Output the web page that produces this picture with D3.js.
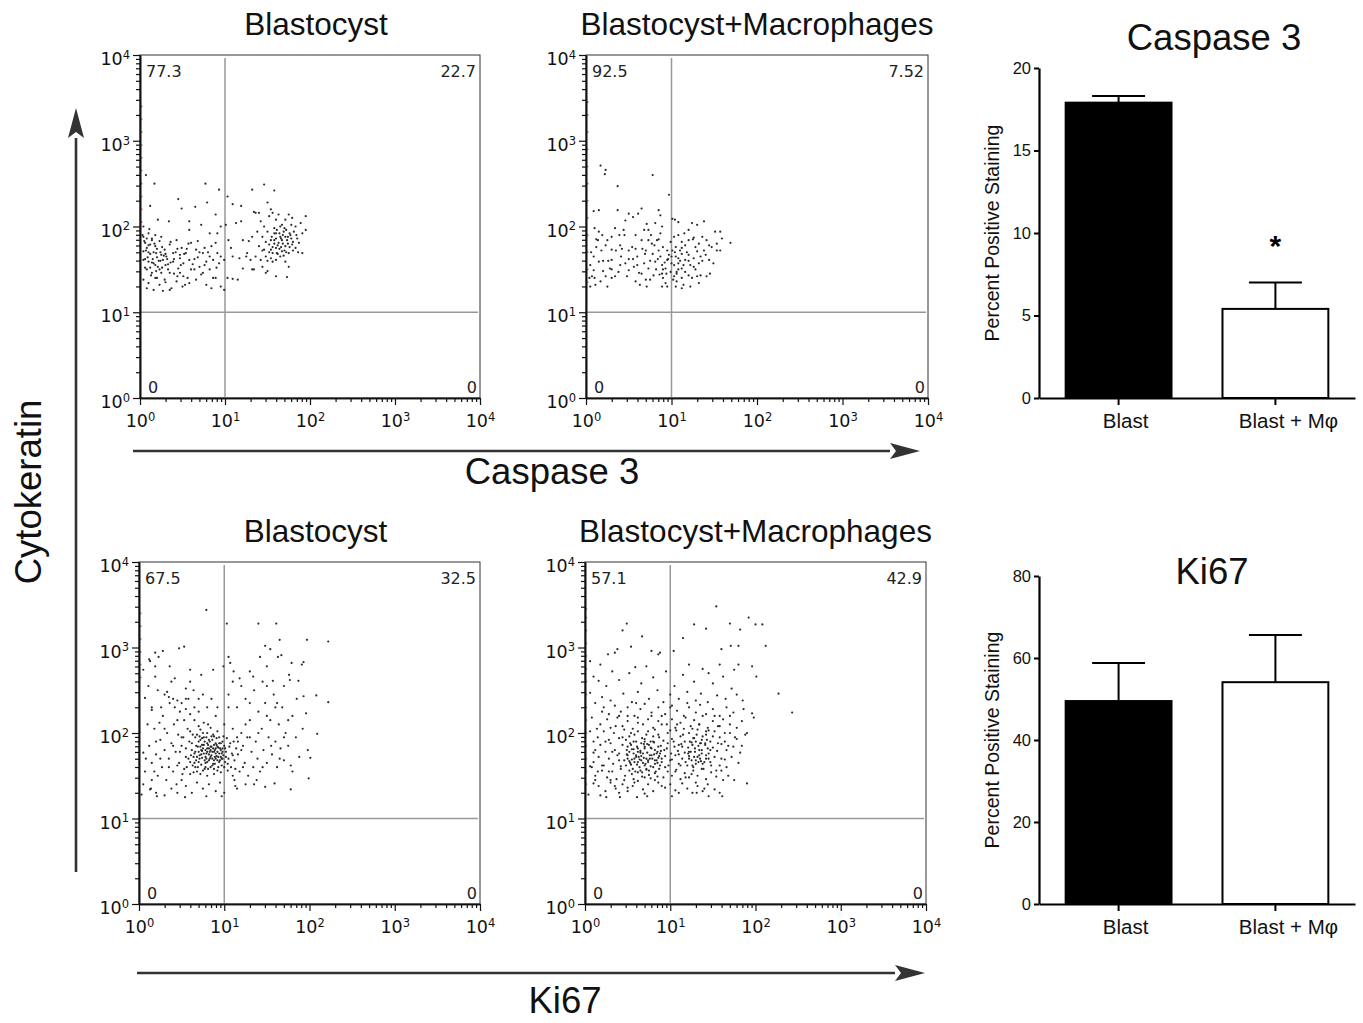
<!DOCTYPE html>
<html>
<head>
<meta charset="utf-8">
<script src="https://cdn.jsdelivr.net/npm/d3@7"></script>
<style>
  body { margin: 0; background: #fff; }
  text { font-family: "Liberation Sans", Arial, sans-serif; }
  .flow text { font-family: "DejaVu Sans", Verdana, sans-serif; }
</style>
</head>
<body>
<div id="chart"></div>
<script>
// ---- data (dot positions are log10 of the fluorescence values) ----
const flowTitles = ["Blastocyst", "Blastocyst+Macrophages", "Blastocyst", "Blastocyst+Macrophages"];
const quadTopLeft = ["77.3", "92.5", "67.5", "57.1"];
const quadTopRight = ["22.7", "7.52", "32.5", "42.9"];
const quadBottomLeft = ["0", "0", "0", "0"];
const quadBottomRight = ["0", "0", "0", "0"];
const decadeTicks = [1, 10, 100, 1000, 10000];
const gateValue = 10;

const casBlastPts = [
  [0.02,2.05],[0.02,2.2],[0.02,2.35],[0.02,2.5],[0.02,2.65],[0.02,2.8],[0.02,2.95],[0.02,3.1],[0.02,3.25],[0.02,3.4],
  [0.04,2.00],[0.11,1.97],[0.21,2.08],[0.34,2.06],[0.58,2.06],[0.18,1.90],[0.25,1.88],[0.04,1.88],[0.10,1.92],[0.14,1.84],
  [0.58,1.96],[0.72,2.02],[0.68,1.83],[0.82,1.92],[0.91,1.92],[0.95,2.00],[0.06,1.81],[0.12,1.79],[0.18,1.77],[0.23,1.83],
  [0.29,1.73],[0.35,1.79],[0.43,1.84],[0.49,1.75],[0.54,1.69],[0.60,1.81],[0.66,1.73],[0.76,1.75],[0.84,1.77],[0.89,1.81],
  [0.04,1.71],[0.08,1.75],[0.19,1.69],[0.25,1.67],[0.31,1.65],[0.39,1.69],[0.47,1.67],[0.74,1.69],[0.91,1.69],[0.95,1.65],
  [0.04,1.61],[0.10,1.59],[0.16,1.57],[0.21,1.53],[0.27,1.61],[0.33,1.50],[0.39,1.59],[0.45,1.51],[0.51,1.57],[0.58,1.61],
  [0.64,1.50],[0.70,1.53],[0.78,1.59],[0.86,1.61],[0.93,1.57],[0.99,1.61],[0.08,1.50],[0.14,1.46],[0.19,1.48],[0.25,1.46],
  [0.35,1.46],[0.47,1.46],[0.74,1.46],[0.82,1.50],[0.04,1.38],[0.10,1.34],[0.18,1.40],[0.23,1.32],[0.29,1.38],[0.37,1.28],
  [0.43,1.36],[0.51,1.42],[0.58,1.34],[0.66,1.38],[0.78,1.32],[0.84,1.28],[0.89,1.40],[0.95,1.30],[0.99,1.26],[0.16,1.26],
  [0.27,1.25],[0.35,1.26],[0.53,1.32],[0.08,1.28],
  [0.07,1.72],[0.12,1.68],[0.15,1.62],[0.20,1.74],[0.22,1.60],[0.28,1.66],[0.30,1.55],[0.10,1.78],[0.05,1.83],[0.14,1.86],
  [0.24,1.70],[0.32,1.62],[0.18,1.55],[0.26,1.52],[0.09,1.64],[0.36,1.58],[0.42,1.70],[0.47,1.63],[0.55,1.74],[0.62,1.56],
  [0.68,1.64],[0.72,1.44],[0.80,1.70],[0.86,1.40],[0.90,1.52],[0.56,1.40],[0.44,1.42],[0.13,1.43],[0.06,1.52],[0.03,1.90],
  [0.06,1.62],[0.10,1.70],[0.14,1.58],[0.17,1.80],[0.20,1.64],[0.23,1.50],[0.26,1.76],[0.30,1.68],[0.33,1.56],[0.36,1.82],
  [0.40,1.62],[0.44,1.74],[0.48,1.55],[0.52,1.68],[0.57,1.80],[0.60,1.50],[0.64,1.62],[0.70,1.70],[0.76,1.55],[0.82,1.65],
  [0.08,1.86],[0.16,1.70],[0.24,1.60],[0.12,1.52],[0.20,1.40],[0.30,1.35],[0.40,1.45],[0.50,1.30],
  [0.07,2.60],[0.17,2.50],[0.12,2.24],[0.45,2.32],[0.77,2.50],[0.79,2.28],[0.93,2.43],[0.49,2.21],[0.65,2.23],[1.03,2.35],
  [1.09,2.26],[1.32,2.43],[1.46,2.49],[1.58,2.42],[1.50,2.28],[1.19,2.24],[0.89,2.14],[1.34,2.17],[1.40,2.16],[1.54,2.20],
  [1.01,2.02],[1.04,1.84],[1.07,1.75],[1.13,2.04],[1.19,2.06],[1.09,1.65],[1.17,1.63],[1.25,1.65],[1.21,1.84],[1.28,1.83],
  [1.32,1.88],[1.03,1.40],[1.09,1.39],[1.15,1.38],[1.21,1.51],[1.26,1.69],[1.34,1.50],[1.30,1.61],
  [1.36,2.16],[1.42,2.06],[1.46,2.00],[1.52,2.12],[1.56,2.16],[1.60,2.08],[1.63,2.14],[1.67,2.02],[1.71,2.08],[1.75,2.14],
  [1.79,2.10],[1.83,2.00],[1.89,2.04],[1.95,2.12],[1.38,1.94],[1.44,1.88],[1.50,1.94],[1.54,1.84],[1.58,1.92],[1.61,1.96],
  [1.65,1.88],[1.69,1.94],[1.73,1.84],[1.77,1.90],[1.81,1.94],[1.85,1.86],[1.91,1.92],[1.95,1.96],[1.40,1.77],[1.46,1.73],
  [1.52,1.79],[1.56,1.69],[1.60,1.75],[1.63,1.81],[1.67,1.71],[1.71,1.77],[1.75,1.69],[1.79,1.79],[1.83,1.75],[1.87,1.81],
  [1.91,1.69],[1.36,1.65],[1.42,1.61],[1.48,1.65],[1.54,1.63],[1.60,1.61],[1.65,1.65],[1.71,1.59],[1.44,1.53],[1.50,1.48],
  [1.56,1.59],[1.61,1.69],[1.67,1.84],[1.75,1.53],[1.32,1.50],[1.48,1.46],[1.60,1.42],[1.73,1.41],[1.54,1.73],[1.58,1.84],
  [1.65,2.00],[1.71,1.88],[1.62,1.78],[1.66,1.86],[1.70,1.72],[1.74,1.80],[1.68,1.90],[1.58,1.80],[1.55,1.88],[1.64,1.74],
  [1.72,1.96],[1.78,1.86],[1.80,1.72],[1.60,1.92],[1.52,1.70],[1.48,1.82],[1.76,1.76],[1.69,1.66],
  [1.60,1.86],[1.64,1.92],[1.68,1.80],[1.72,1.70],[1.76,1.92],[1.80,1.82],[1.84,1.90],[1.56,1.76],[1.62,1.68],[1.70,1.98],
  [1.78,2.02],[1.66,1.76],[1.74,1.88],[1.58,1.98],[1.86,1.70],[1.50,1.60],[1.44,1.72]
];

const casMacPts = [
  [0.02,1.35],[0.02,1.5],[0.02,1.7],[0.02,1.9],[0.02,2.1],[0.02,2.3],[0.02,2.5],[0.02,2.7],[0.02,2.9],[0.02,3.1],[0.02,3.3],[0.02,3.45],
  [0.17,2.71],[0.23,2.66],[0.22,2.61],[0.37,2.47],[0.78,2.60],[0.97,2.37],[0.09,2.18],[0.15,2.19],[0.37,2.19],[0.50,2.15],
  [0.55,2.11],[0.61,2.15],[0.65,2.21],[0.85,2.19],[0.87,2.13],[1.01,2.09],[1.04,2.08],[1.08,2.05],[0.81,2.04],[0.71,2.03],
  [0.46,2.07],[0.10,1.98],[0.15,1.94],[0.14,1.84],[0.12,1.76],[0.19,1.90],[0.25,1.84],[0.30,1.88],[0.34,1.98],[0.39,1.90],
  [0.44,1.96],[0.45,1.90],[0.35,1.72],[0.30,1.73],[0.42,1.74],[0.23,1.78],[0.18,1.72],[0.09,1.65],[0.15,1.59],[0.09,1.49],
  [0.07,1.42],[0.05,1.30],[0.11,1.32],[0.17,1.36],[0.23,1.42],[0.30,1.40],[0.34,1.42],[0.38,1.47],[0.28,1.51],[0.30,1.61],
  [0.41,1.65],[0.50,1.72],[0.54,1.76],[0.58,1.74],[0.60,1.65],[0.56,1.53],[0.46,1.57],[0.50,1.49],[0.58,1.36],[0.63,1.32],
  [0.71,1.30],[0.75,1.38],[0.79,1.43],[0.73,1.51],[0.68,1.57],[0.69,1.68],[0.65,1.84],[0.73,1.84],[0.77,1.80],[0.83,1.84],
  [0.68,1.96],[0.73,1.96],[0.89,2.00],[0.87,1.92],[0.90,1.76],[0.85,1.72],[0.87,1.65],[0.81,1.59],[0.89,1.55],[0.93,1.51],
  [0.89,1.45],[0.90,1.40],[0.95,1.61],[0.95,1.72],[0.97,1.67],[0.89,1.30],[0.95,1.30],
  [1.03,1.88],[1.08,1.90],[1.12,1.82],[1.05,1.76],[1.10,1.72],[1.16,1.78],[1.20,1.84],[1.26,1.87],[1.32,1.80],[1.36,1.88],
  [1.41,1.84],[1.47,1.76],[1.53,1.80],[1.59,1.86],[1.57,1.94],[1.51,1.94],[1.69,1.81],[1.24,2.04],[1.30,2.02],[1.38,2.06],
  [1.20,1.96],[1.05,1.65],[1.08,1.57],[1.03,1.55],[1.06,1.47],[1.12,1.51],[1.16,1.61],[1.20,1.67],[1.26,1.63],[1.30,1.71],
  [1.34,1.65],[1.40,1.67],[1.44,1.61],[1.49,1.57],[1.53,1.72],[1.57,1.72],[1.26,1.53],[1.32,1.57],[1.20,1.43],[1.24,1.40],
  [1.30,1.42],[1.34,1.43],[1.41,1.42],[1.45,1.45],[1.12,1.40],[1.06,1.36],[1.14,1.32],[1.12,1.28],[1.05,1.30],[1.03,1.42],
  [1.22,1.30],[1.32,1.34],[0.99,1.47],[1.00,1.57],[1.01,1.72],[0.99,1.82],[1.16,1.47],[1.22,1.55],[1.28,1.76],[1.38,1.72],
  [1.12,1.68],[1.08,1.63],
  [0.55,1.62],[0.62,1.46],[0.48,1.42],[0.66,1.74],[0.78,1.68],[0.82,1.50],[0.70,1.38],[0.40,1.55],[0.26,1.60],[0.20,1.48],
  [0.12,1.85],[0.05,1.55],[0.06,1.70],[0.04,1.40],[0.84,1.62],[0.92,1.58],[0.86,1.44],[0.93,1.34],[0.76,1.90],[0.58,1.90],
  [1.00,1.65],[1.04,1.70],[1.08,1.50],[1.10,1.60],[1.14,1.55],[1.18,1.70],[1.02,1.38],[1.06,1.45],[0.90,1.50],[0.94,1.45],
  [0.96,1.62],[1.12,1.75],[1.20,1.60],[1.28,1.50],[1.36,1.60],[1.44,1.78],[0.60,1.55],[0.50,1.62],[0.70,1.72],[0.80,1.78],
  [0.40,1.78],[0.30,1.50],[0.20,1.60],[0.10,1.40],[0.25,1.30],[0.65,1.45],[0.75,1.60],[0.85,1.85],[1.25,1.85],[1.15,1.92]
];

const kiBlastPts = [
  [0.02,2.8],[0.02,2.95],[0.02,3.1],[0.02,3.25],[0.02,3.4],[0.02,2.65],
  [0.79,3.44],[1.03,3.28],[1.40,3.28],[1.61,3.28],[1.65,3.09],[1.97,3.09],[2.22,3.07],[0.47,2.99],[0.53,3.01],[1.48,3.02],
  [1.54,2.98],[1.05,2.89],[1.42,2.89],[1.63,2.89],[1.67,2.91],[1.79,2.82],[1.91,2.80],[1.93,2.83],[0.19,2.94],[0.23,2.89],
  [0.28,2.96],[0.12,2.86],[0.19,2.78],[0.36,2.78],[0.42,2.64],[0.19,2.66],[0.05,2.74],[0.13,2.84],[0.60,2.74],[0.73,2.68],
  [0.87,2.74],[0.99,2.78],[1.07,2.82],[1.11,2.72],[1.18,2.64],[1.30,2.72],[1.34,2.66],[1.50,2.78],[1.57,2.61],[1.76,2.68],
  [1.77,2.62],[1.87,2.61],[1.93,2.43],[2.08,2.44],[2.22,2.36],[1.96,2.23],[2.09,1.99],[1.98,1.80],[2.01,1.71],[1.99,1.47],
  [1.78,1.34],[1.59,1.41],[1.48,1.37],[1.13,1.38],[0.97,1.26],[0.79,1.26],[0.54,1.25],[0.30,1.27],[0.21,1.26],[0.13,1.34],
  [0.03,1.28],[0.15,1.45],[0.07,1.55],[0.05,1.77],[0.01,2.01],[0.15,2.27],[0.07,2.41],[0.11,2.55],
  [0.52,1.95],[0.55,1.82],[0.58,1.70],[0.60,2.02],[0.62,1.88],[0.63,1.62],[0.65,1.76],[0.66,1.95],[0.68,1.55],[0.69,1.84],
  [0.70,2.08],[0.71,1.70],[0.72,1.92],[0.73,1.63],[0.74,1.79],[0.75,2.00],[0.76,1.86],[0.77,1.58],[0.78,1.72],[0.79,1.95],
  [0.80,1.66],[0.80,1.82],[0.81,2.10],[0.82,1.75],[0.83,1.90],[0.84,1.60],[0.85,1.84],[0.86,1.70],[0.87,1.98],[0.88,1.78],
  [0.89,1.64],[0.90,1.88],[0.91,1.73],[0.92,1.56],[0.93,1.83],[0.94,1.95],[0.95,1.68],[0.96,1.80],[0.97,1.62],[0.98,1.90],
  [0.99,1.74],[1.00,1.85],[1.01,1.66],[1.02,1.78],[1.03,1.94],[1.05,1.70],[1.06,1.84],[1.08,1.60],[1.09,1.76],[1.11,1.90],
  [1.12,1.68],[1.14,1.82],[0.56,1.60],[0.59,1.90],[0.64,1.72],[0.67,1.68],[0.70,1.78],[0.74,1.71],[0.76,1.95],[0.78,1.65],
  [0.82,1.68],[0.84,1.80],[0.86,1.92],[0.88,1.58],[0.90,1.82],[0.92,1.68],[0.94,1.76],[0.96,1.88],[0.98,1.70],[1.00,1.60],
  [0.72,1.84],[0.76,1.76],[0.80,1.88],[0.84,1.72],[0.88,1.86],[0.92,1.78],[0.96,1.72],[0.62,1.80],[0.66,1.60],[0.70,1.90],
  [0.74,1.86],[0.78,1.80],[0.82,1.82],[0.86,1.78],[0.90,1.70],[0.94,1.88],[0.98,1.82],[1.02,1.72],[0.68,1.98],[0.72,2.04],
  [0.76,2.12],[0.80,2.00],[0.84,2.06],[0.88,1.96],[0.92,2.02],[0.60,1.66],[0.64,1.54],[0.72,1.52],[0.80,1.50],[0.88,1.52],
  [0.96,1.54],[1.04,1.56],
  [0.45,1.62],[0.48,1.78],[0.50,1.95],[0.53,1.58],[0.55,1.72],[0.57,2.05],[0.60,1.52],[0.61,1.74],[0.63,1.98],[0.65,1.65],
  [0.67,1.85],[0.69,1.60],[0.71,1.96],[0.73,1.75],[0.75,1.56],[0.77,1.90],[0.79,1.70],[0.81,1.58],[0.83,1.78],[0.85,1.96],
  [0.87,1.64],[0.89,1.80],[0.91,1.94],[0.93,1.60],[0.95,1.82],[0.97,1.70],[0.99,1.96],[1.01,1.82],[1.04,1.64],[1.07,1.88],
  [1.10,1.74],[1.13,1.58],[1.16,1.90],[0.66,1.78],[0.70,1.66],[0.74,1.94],[0.78,1.60],[0.82,1.92],[0.86,1.62],[0.90,1.76],
  [0.94,1.66],[0.98,1.78],[0.75,1.82],[0.79,1.76],[0.83,1.70],[0.87,1.82],[0.91,1.86],[0.71,1.74],[0.77,1.68],[0.81,1.86],
  [0.85,1.74],[0.89,1.72],[0.93,1.72],[0.97,1.76],[0.68,1.72],[0.73,1.80],[0.80,1.78],[0.84,1.84],[0.88,1.68],[0.92,1.84],
  [0.12,1.85],[0.15,1.65],[0.18,2.05],[0.20,1.75],[0.22,1.50],[0.25,1.92],[0.27,1.60],[0.28,2.20],[0.30,1.80],[0.32,1.45],
  [0.33,2.00],[0.35,1.70],[0.36,2.35],[0.38,1.88],[0.40,1.55],[0.41,2.10],[0.43,1.78],[0.44,1.40],[0.46,1.98],[0.47,1.65],
  [0.48,2.25],[0.50,1.85],[0.51,1.52],[0.53,2.15],[0.30,2.45],[0.35,2.42],[0.40,2.40],[0.45,2.38],[0.33,2.48],[0.26,2.30],
  [0.42,2.30],[0.50,2.35],[0.55,2.28],[0.60,2.22],[0.65,2.30],[0.70,2.25],[0.08,1.70],[0.10,2.10],[0.05,1.40],[0.14,1.35],
  [0.20,1.30],[0.38,1.35],[0.45,1.30],[0.55,1.38],[0.62,1.30],[0.68,1.42],[0.75,1.35],[0.82,1.40],[0.90,1.32],[0.95,1.42],
  [1.00,1.30],[0.24,2.12],[0.18,1.55],[0.58,2.40],[0.64,2.50],[0.75,2.45],[0.85,2.40],[0.92,2.30],[0.55,2.52],
  [0.20,1.90],[0.25,1.70],[0.30,2.05],[0.35,1.60],[0.40,1.85],[0.45,2.15],[0.50,1.45],[0.55,2.40],[0.65,2.15],[0.70,2.40],
  [0.80,2.30],[0.90,2.20],[1.00,2.10],[1.05,2.30],[1.10,1.50],[1.20,1.80],[1.25,2.10],[1.30,1.95],[1.35,1.40],[1.40,2.00],
  [1.45,1.60],[1.50,2.20],[1.55,1.85],[1.60,2.30],[1.65,1.70],[1.70,1.95],[1.75,2.15],[1.80,1.55],[1.85,2.40],[1.30,2.35],
  [1.15,1.95],[1.22,1.60],[0.15,2.30],[0.22,2.50],[0.38,2.60],[0.60,2.60],
  [1.10,2.05],[1.12,1.45],[1.15,2.30],[1.16,1.75],[1.18,1.55],[1.20,2.00],[1.22,1.85],[1.24,1.65],[1.25,2.40],[1.27,1.95],
  [1.28,1.50],[1.30,2.15],[1.32,1.78],[1.34,1.60],[1.35,2.50],[1.37,1.90],[1.39,1.70],[1.40,2.25],[1.42,1.55],[1.44,2.05],
  [1.46,1.80],[1.48,2.35],[1.50,1.65],[1.52,1.95],[1.54,2.15],[1.56,1.75],[1.58,2.45],[1.60,1.90],[1.62,1.60],[1.64,2.10],
  [1.66,1.82],[1.68,2.30],[1.70,1.68],[1.72,2.00],[1.75,1.85],[1.78,1.62],[1.80,2.20],[1.84,1.95],[1.88,1.72],[1.92,2.05],
  [1.20,2.55],[1.45,2.60],[1.70,2.55],[1.05,2.45],[1.10,2.60],[1.25,1.40],[1.38,1.45],[1.15,1.35],[1.50,2.55],[1.62,2.35]
];

const kiMacPts = [
  [0.015,1.4],[0.015,1.55],[0.015,1.7],[0.015,1.85],[0.015,2.0],[0.015,2.15],[0.015,2.3],[0.015,2.45],[0.015,2.6],
  [0.015,2.75],[0.015,2.9],[0.015,3.05],[0.015,3.2],[0.015,3.35],[0.015,3.45],
  [2.27,2.46],[2.43,2.24],[1.96,2.23],[1.98,2.18],[2.12,3.02],[1.92,3.35],[2.00,3.27],[2.08,3.27],[1.54,3.48],[1.82,3.21],
  [1.70,3.28],[1.42,3.22],[1.28,3.27],[1.15,3.11],[1.04,2.96],[0.67,3.13],[0.49,3.28],[0.44,3.20],[0.54,3.01],[0.86,2.92],
  [0.88,2.94],[0.78,2.96],[0.59,2.77],[0.38,2.98],[0.35,2.94],[0.27,2.92],[0.18,2.80],[0.06,2.84],[0.10,2.66],[1.71,3.02],
  [1.80,3.02],[1.60,2.98],[1.75,2.74],[1.80,2.80],[1.96,2.78],[2.01,2.66],[1.90,2.00],[1.82,1.77],[1.90,1.41],[1.75,1.45],
  [1.61,1.26],[1.45,1.26],[1.31,1.30],[1.02,1.26],[0.73,1.26],[0.61,1.25],[0.41,1.25],[0.25,1.25],[0.18,1.27],[0.04,1.28],
  [0.10,1.41],[0.06,1.61],[0.10,1.77],[0.06,2.02],[0.08,2.18],[0.06,2.47],[0.12,2.35],[0.16,2.61],
  [0.25,2.55],[0.40,2.62],[0.52,2.70],[0.66,2.58],[0.80,2.65],[0.95,2.72],[1.05,2.55],[1.15,2.68],[1.28,2.60],[1.38,2.75],
  [1.50,2.58],[1.62,2.66],[1.72,2.52],[0.32,2.72],[0.72,2.78],[1.22,2.80],[1.45,2.70],[1.58,2.80],
  [0.20,2.42],[0.30,2.38],[0.45,2.46],[0.55,2.36],[0.62,2.48],[0.75,2.40],[0.85,2.50],[0.92,2.36],[1.00,2.45],[1.10,2.40],
  [1.20,2.48],[1.30,2.38],[1.36,2.46],[1.44,2.36],[1.55,2.44],[1.65,2.40],[1.78,2.45],[1.85,2.38],
  [0.22,2.30],[0.28,2.22],[0.35,2.32],[0.42,2.25],[0.50,2.30],[0.58,2.20],[0.65,2.28],[0.70,2.34],[0.78,2.24],[0.86,2.30],
  [0.94,2.22],[1.02,2.32],[1.08,2.26],[1.16,2.20],[1.22,2.30],[1.30,2.24],[1.35,2.33],[1.42,2.22],[1.50,2.28],[1.58,2.20],
  [1.66,2.30],[1.74,2.24],[1.86,2.28],
  [0.18,2.10],[0.26,2.16],[0.30,2.06],[0.38,2.18],[0.44,2.08],[0.50,2.14],[0.56,2.05],[0.62,2.18],[0.68,2.10],[0.74,2.16],
  [0.80,2.06],[0.86,2.14],[0.90,2.20],[0.96,2.10],[1.02,2.16],[1.06,2.06],[1.12,2.12],[1.18,2.18],[1.24,2.08],[1.28,2.15],
  [1.34,2.10],[1.38,2.20],[1.44,2.06],[1.50,2.14],[1.56,2.08],[1.62,2.16],[1.70,2.10],[1.78,2.06],[1.84,2.14],
  [0.15,1.95],[0.22,2.02],[0.28,1.92],[0.34,2.00],[0.40,1.94],[0.46,2.04],[0.52,1.96],[0.57,1.90],[0.62,2.02],[0.67,1.94],
  [0.72,1.98],[0.77,1.90],[0.82,2.04],[0.87,1.95],[0.92,1.91],[0.97,2.00],[1.02,1.93],[1.07,2.03],[1.12,1.96],[1.17,1.90],
  [1.22,2.00],[1.27,1.94],[1.32,2.04],[1.37,1.92],[1.42,1.98],[1.47,1.90],[1.52,2.02],[1.58,1.95],[1.64,1.90],[1.70,2.00],
  [1.78,1.93],[1.88,1.98],[0.48,1.92],[0.58,1.98],[0.70,1.90],[0.80,1.96],[1.00,2.03],[1.15,1.98],[1.30,1.90],[1.45,2.03],
  [0.12,1.80],[0.18,1.86],[0.24,1.78],[0.30,1.88],[0.35,1.80],[0.40,1.76],[0.44,1.86],[0.49,1.80],[0.53,1.88],[0.57,1.76],
  [0.61,1.84],[0.65,1.79],[0.69,1.87],[0.73,1.77],[0.77,1.83],[0.81,1.89],[0.85,1.78],[0.89,1.85],[0.93,1.80],[0.97,1.88],
  [1.01,1.76],[1.05,1.84],[1.09,1.79],[1.13,1.87],[1.17,1.77],[1.21,1.83],[1.25,1.89],[1.29,1.78],[1.33,1.85],[1.37,1.80],
  [1.41,1.88],[1.45,1.76],[1.50,1.83],[1.55,1.79],[1.60,1.87],[1.66,1.80],[1.74,1.84],[0.50,1.84],[0.62,1.78],[0.75,1.86],
  [0.88,1.76],[1.10,1.86],[1.22,1.78],[1.35,1.88],[0.55,1.81],[0.70,1.82],[0.82,1.80],
  [0.10,1.66],[0.16,1.72],[0.22,1.62],[0.28,1.70],[0.33,1.64],[0.38,1.74],[0.42,1.61],[0.46,1.68],[0.50,1.74],[0.54,1.63],
  [0.58,1.70],[0.62,1.66],[0.66,1.73],[0.70,1.62],[0.74,1.68],[0.78,1.74],[0.82,1.64],[0.86,1.71],[0.90,1.66],[0.94,1.73],
  [0.98,1.62],[1.02,1.69],[1.06,1.74],[1.10,1.64],[1.14,1.70],[1.18,1.66],[1.22,1.73],[1.26,1.62],[1.30,1.68],[1.34,1.74],
  [1.38,1.64],[1.42,1.70],[1.47,1.66],[1.52,1.72],[1.58,1.62],[1.64,1.69],[0.52,1.67],[0.60,1.72],[0.68,1.65],[0.76,1.70],
  [0.84,1.68],[1.28,1.72],[1.36,1.67],[0.64,1.69],[0.72,1.70],
  [0.12,1.50],[0.20,1.56],[0.26,1.48],[0.32,1.55],[0.37,1.46],[0.42,1.58],[0.47,1.50],[0.52,1.56],[0.57,1.46],[0.62,1.54],
  [0.67,1.49],[0.72,1.57],[0.77,1.47],[0.82,1.53],[0.87,1.58],[0.92,1.48],[0.97,1.55],[1.02,1.50],[1.07,1.57],[1.12,1.46],
  [1.17,1.53],[1.22,1.48],[1.27,1.56],[1.32,1.50],[1.37,1.58],[1.42,1.46],[1.48,1.54],[1.54,1.49],[1.60,1.56],[1.68,1.50],
  [0.55,1.52],[0.65,1.56],[0.75,1.51],[0.85,1.49],[1.25,1.52],
  [0.16,1.38],[0.24,1.32],[0.30,1.42],[0.36,1.35],[0.44,1.40],[0.50,1.32],[0.56,1.38],[0.62,1.44],[0.68,1.34],[0.74,1.40],
  [0.80,1.32],[0.86,1.42],[0.94,1.36],[1.00,1.40],[1.06,1.33],[1.14,1.41],[1.20,1.35],[1.26,1.30],[1.32,1.38],[1.38,1.32],
  [1.44,1.40],[1.52,1.34],[1.58,1.30],[0.40,1.30],[0.70,1.29],[1.10,1.30],
  [0.48,1.62],[0.50,1.70],[0.52,1.78],[0.54,1.86],[0.56,1.58],[0.58,1.66],[0.60,1.74],[0.62,1.82],[0.64,1.60],[0.66,1.68],
  [0.68,1.76],[0.70,1.84],[0.72,1.58],[0.74,1.66],[0.76,1.74],[0.78,1.82],[0.80,1.60],[0.82,1.68],[0.84,1.76],[0.86,1.84],
  [0.88,1.62],[0.90,1.70],[0.49,1.75],[0.53,1.65],[0.57,1.81],[0.61,1.63],[0.65,1.77],[0.69,1.71],[0.73,1.87],[0.77,1.61],
  [0.81,1.75],[0.85,1.65],[0.89,1.79],[0.55,1.69],[0.63,1.72],[0.71,1.64],[0.79,1.70],[0.87,1.73],[0.59,1.55],[0.67,1.54],
  [0.75,1.56],[0.83,1.55],[0.60,1.90],[0.70,1.93],[0.80,1.90],
  [1.20,1.62],[1.22,1.70],[1.24,1.78],[1.26,1.86],[1.28,1.94],[1.30,1.64],[1.32,1.72],[1.34,1.80],[1.36,1.88],[1.38,1.96],
  [1.40,1.66],[1.42,1.74],[1.44,1.82],[1.21,1.76],[1.25,1.68],[1.29,1.82],[1.33,1.66],[1.37,1.76],[1.41,1.86],[1.45,1.70],
  [1.23,1.90],[1.27,1.60],[1.31,1.98],[1.35,1.70],[1.39,1.58],[1.43,1.92],[1.47,1.80],[1.26,2.05],[1.34,2.10],[1.42,2.02],
  [0.20,1.62],[0.24,1.90],[0.28,1.55],[0.32,1.78],[0.36,2.08],[0.40,1.68],[0.44,1.95],[0.46,1.45],[0.50,2.20],[0.54,2.00],
  [0.58,1.42],[0.62,2.12],[0.66,1.88],[0.70,1.48],[0.74,2.02],[0.78,2.20],[0.82,1.45],[0.86,1.98],[0.90,2.10],[0.94,1.60],
  [0.96,1.82],[1.00,1.68],[1.04,1.90],[1.06,1.55],[1.08,2.10],[1.10,1.75],[1.12,1.62],[1.14,1.84],[1.16,2.05],[1.18,1.48],
  [1.48,1.62],[1.50,1.96],[1.52,2.20],[1.54,1.56],[1.56,1.88],[1.58,2.08],[1.60,1.70],[1.62,1.45],[1.64,2.00],[1.66,1.60],
  [1.68,1.85],[1.70,2.20],[1.72,1.72],[1.76,1.95],[1.80,1.65],[1.84,1.85],[1.00,2.30],[1.20,2.35],[0.60,2.35],[0.40,2.20],
  [0.30,1.45],[0.35,1.38],[0.50,1.36],[0.90,1.38],[1.30,1.42],[1.40,1.35],[0.15,1.55],[0.14,2.05],[0.20,2.25],[0.10,1.90],
  [0.08,1.60],[0.12,1.45]
];

// bar charts
const barGroups = ["Blast", "Blast + Mφ"];
const barFills = ["#000", "#fff"];
const caspaseMeans = [17.9, 5.4];
const caspaseSem = [0.4, 1.6];
const caspaseTicks = [0, 5, 10, 15, 20];
const ki67Means = [49.5, 54.1];
const ki67Sem = [9.3, 11.5];
const ki67Ticks = [0, 20, 40, 60, 80];

// ---- drawing ----
const svg = d3.select("#chart").append("svg")
  .attr("width", 1363).attr("height", 1023);

const flowPanels = [
  { left: 140, right: 480, top: 55, bottom: 398, points: casBlastPts, title: 35 },
  { left: 586, right: 928, top: 55, bottom: 398, points: casMacPts, title: 35 },
  { left: 139, right: 480, top: 562, bottom: 904, points: kiBlastPts, title: 542 },
  { left: 585, right: 926, top: 562, bottom: 904, points: kiMacPts, title: 542 }
];

const minorTicks = [];
decadeTicks.slice(0, -1).forEach(d => {
  for (let m = 2; m <= 9; m++) minorTicks.push(m * d);
});

function superLabels(sel) {
  sel.selectAll(".tick text").each(function (d) {
    const t = d3.select(this).text(null);
    t.append("tspan").text("10");
    t.append("tspan").attr("font-size", 11.5).attr("dy", "-0.55em").text(Math.round(Math.log10(d)));
  });
}

function drawFlow(p, i) {
  const x = d3.scaleLog().domain([1, 1e4]).range([p.left, p.right]);
  const y = d3.scaleLog().domain([1, 1e4]).range([p.bottom, p.top]);
  const g = svg.append("g").attr("class", "flow");

  g.append("rect")
    .attr("x", p.left).attr("y", p.top)
    .attr("width", p.right - p.left).attr("height", p.bottom - p.top)
    .attr("fill", "none").attr("stroke", "#333").attr("stroke-width", 1);

  // quadrant gates
  g.append("line")
    .attr("x1", x(gateValue)).attr("x2", x(gateValue))
    .attr("y1", p.top + 3).attr("y2", p.bottom)
    .attr("stroke", "#999").attr("stroke-width", 1.5);
  g.append("line")
    .attr("x1", p.left).attr("x2", p.right - 2)
    .attr("y1", y(gateValue)).attr("y2", y(gateValue))
    .attr("stroke", "#999").attr("stroke-width", 1.5);

  g.append("g").selectAll("circle")
    .data(p.points)
    .join("circle")
    .attr("cx", d => x(Math.pow(10, d[0])))
    .attr("cy", d => y(Math.pow(10, d[1])))
    .attr("r", 1.1)
    .attr("fill", d => d[0] < 0.03 ? "#aaa" : "#2a2a2a");

  // axes: minor then major ticks
  const xMinor = g.append("g").attr("transform", `translate(0,${p.bottom})`)
    .call(d3.axisBottom(x).tickValues(minorTicks).tickSize(4).tickSizeOuter(0).tickFormat(""));
  const xMajor = g.append("g").attr("transform", `translate(0,${p.bottom})`)
    .call(d3.axisBottom(x).tickValues(decadeTicks).tickSize(7).tickSizeOuter(0).tickPadding(10));
  const yMinor = g.append("g").attr("transform", `translate(${p.left},0)`)
    .call(d3.axisLeft(y).tickValues(minorTicks).tickSize(4).tickSizeOuter(0).tickFormat(""));
  const yMajor = g.append("g").attr("transform", `translate(${p.left},0)`)
    .call(d3.axisLeft(y).tickValues(decadeTicks).tickSize(7).tickSizeOuter(0).tickPadding(3));

  [xMinor, xMajor, yMinor, yMajor].forEach(a => {
    a.select(".domain").attr("stroke", "#111").attr("stroke-width", 1.6);
    a.selectAll(".tick line").attr("stroke", "#111").attr("stroke-width", 1.2);
    a.selectAll("text").attr("font-family", null).attr("font-size", 17.5).attr("fill", "#111");
  });
  superLabels(xMajor);
  superLabels(yMajor);
  yMajor.selectAll(".tick text").attr("dy", "0.55em");

  // quadrant percentages
  const q = [
    [p.left + 6, p.top + 22, "start", quadTopLeft[i]],
    [p.right - 4, p.top + 22, "end", quadTopRight[i]],
    [p.left + 8, p.bottom - 5, "start", quadBottomLeft[i]],
    [p.right - 3, p.bottom - 5, "end", quadBottomRight[i]]
  ];
  g.selectAll("text.quad").data(q).join("text")
    .attr("class", "quad")
    .attr("x", d => d[0]).attr("y", d => d[1])
    .attr("text-anchor", d => d[2])
    .attr("font-size", 16).attr("fill", "#222")
    .text(d => d[3]);

  svg.append("text")
    .attr("x", (p.left + p.right) / 2 + (i % 2 === 0 ? 6 : 0))
    .attr("y", p.title)
    .attr("text-anchor", "middle")
    .attr("font-size", 31.5).attr("fill", "#111")
    .text(flowTitles[i]);
}

flowPanels.forEach(drawFlow);

function drawBars(b) {
  const x = d3.scaleBand().domain(barGroups).range([1039, 1355]).paddingInner(0.325).paddingOuter(0.17);
  const y = d3.scaleLinear().domain([0, b.ticks[b.ticks.length - 1]]).range([b.bottom, b.top]);
  const g = svg.append("g");
  const rows = barGroups.map((k, i) => ({ key: k, mean: b.means[i], sem: b.sem[i], fill: barFills[i] }));

  // error bars (upper only)
  const capW = x.bandwidth() * 0.5;
  rows.forEach(r => {
    const cx = x(r.key) + x.bandwidth() / 2;
    g.append("line").attr("x1", cx).attr("x2", cx)
      .attr("y1", y(r.mean)).attr("y2", y(r.mean + r.sem))
      .attr("stroke", "#000").attr("stroke-width", 2);
    g.append("line").attr("x1", cx - capW / 2).attr("x2", cx + capW / 2)
      .attr("y1", y(r.mean + r.sem)).attr("y2", y(r.mean + r.sem))
      .attr("stroke", "#000").attr("stroke-width", 2);
  });

  g.selectAll("rect").data(rows).join("rect")
    .attr("x", d => x(d.key)).attr("width", x.bandwidth())
    .attr("y", d => y(d.mean)).attr("height", d => y(0) - y(d.mean))
    .attr("fill", d => d.fill).attr("stroke", "#000").attr("stroke-width", 2);

  const yAx = g.append("g").attr("transform", "translate(1039,0)")
    .call(d3.axisLeft(y).tickValues(b.ticks).tickSize(5).tickSizeOuter(0).tickPadding(3));
  const xAx = g.append("g").attr("transform", `translate(0,${b.bottom})`)
    .call(d3.axisBottom(x).tickSize(7).tickSizeOuter(0).tickPadding(8));
  [yAx, xAx].forEach(a => {
    a.select(".domain").attr("stroke", "#000").attr("stroke-width", 2.2);
    a.selectAll(".tick line").attr("stroke", "#000").attr("stroke-width", 2);
    a.selectAll("text").attr("font-family", null).attr("fill", "#111");
  });
  yAx.selectAll("text").attr("font-size", 16.5);
  xAx.selectAll("text").attr("font-size", 20.5).attr("dx", (d, i) => i === 0 ? 7 : 13);

  g.append("text")
    .attr("transform", `translate(999,${(b.top + b.bottom) / 2}) rotate(-90)`)
    .attr("text-anchor", "middle")
    .attr("font-size", 19.5).attr("fill", "#111")
    .text("Percent Positive Staining");

  g.append("text")
    .attr("x", b.titleX).attr("y", b.titleY)
    .attr("text-anchor", "middle")
    .attr("font-size", 36.5).attr("fill", "#111")
    .text(b.title);

  if (b.star) {
    const r = rows[b.star];
    g.append("text")
      .attr("x", x(r.key) + x.bandwidth() / 2)
      .attr("y", y(r.mean + r.sem) - 27)
      .attr("text-anchor", "middle")
      .attr("font-size", 30).attr("font-weight", "bold")
      .text("*");
  }
}

drawBars({ means: caspaseMeans, sem: caspaseSem, ticks: caspaseTicks, top: 68, bottom: 398,
  title: "Caspase 3", titleX: 1214, titleY: 50, star: 1 });
drawBars({ means: ki67Means, sem: ki67Sem, ticks: ki67Ticks, top: 576, bottom: 904,
  title: "Ki67", titleX: 1212, titleY: 584, star: 0 });

// ---- arrows and big axis labels ----
function arrow(x1, y1, x2, y2) {
  const a = Math.atan2(y2 - y1, x2 - x1);
  const len = 30, half = 8;
  const bx = x2 - len * Math.cos(a), by = y2 - len * Math.sin(a);
  svg.append("line").attr("x1", x1).attr("y1", y1).attr("x2", bx).attr("y2", by)
    .attr("stroke", "#333").attr("stroke-width", 2.6);
  const px = -Math.sin(a) * half, py = Math.cos(a) * half;
  svg.append("path")
    .attr("d", `M${x2},${y2}L${bx + px},${by + py}L${bx + 6 * Math.cos(a)},${by + 6 * Math.sin(a)}L${bx - px},${by - py}Z`)
    .attr("fill", "#333");
}
arrow(133, 451, 920, 451);
arrow(137, 973, 925, 973);
arrow(76, 872, 76, 108);

svg.append("text").attr("x", 552).attr("y", 484).attr("text-anchor", "middle")
  .attr("font-size", 36.5).attr("fill", "#111").text("Caspase 3");
svg.append("text").attr("x", 565).attr("y", 1013).attr("text-anchor", "middle")
  .attr("font-size", 36.5).attr("fill", "#111").text("Ki67");
svg.append("text").attr("transform", "translate(41,492) rotate(-90)").attr("text-anchor", "middle")
  .attr("font-size", 36.5).attr("fill", "#111").text("Cytokeratin");
</script>
</body>
</html>
